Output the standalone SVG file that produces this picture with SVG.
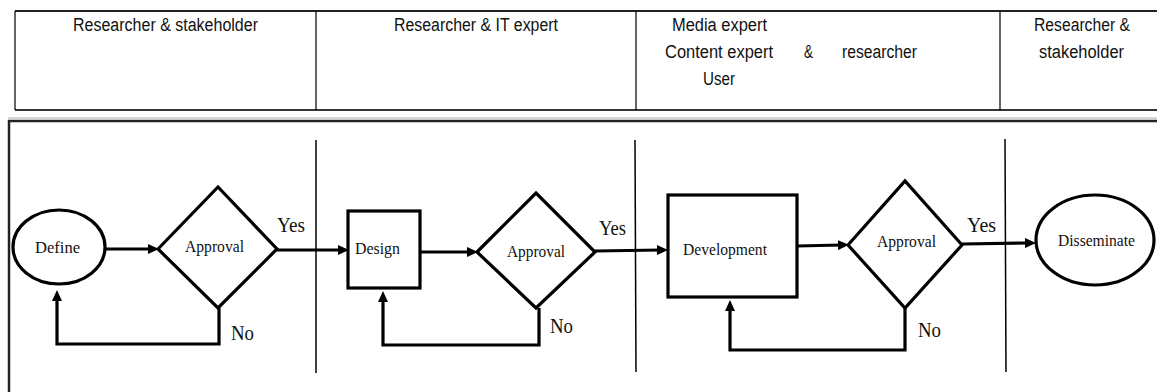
<svg xmlns="http://www.w3.org/2000/svg" width="1157" height="392" viewBox="0 0 1157 392">
  <style>
    .hdr { font-family: "Liberation Sans", Arial, sans-serif; font-size: 18px; fill: #111; }
    .lbl { font-family: "Liberation Serif", "Times New Roman", serif; font-size: 17.5px; fill: #111; }
    .yn  { font-family: "Liberation Serif", "Times New Roman", serif; font-size: 20px; fill: #111; }
    .shape { fill: #fff; stroke: #000; stroke-width: 3.2; }
    .flow { fill: none; stroke: #000; stroke-width: 3.2; }
    .lane { stroke: #000; stroke-width: 1.5; }
  </style>
  <defs>
    <marker id="arrow" markerUnits="userSpaceOnUse" markerWidth="11" markerHeight="10" refX="4" refY="5" orient="auto">
      <path d="M0,0 L11,5 L0,10 z" fill="#000"/>
    </marker>
  </defs>

  <rect width="1157" height="392" fill="#fff"/>

  <!-- role header table -->
  <g id="header">
    <path d="M15,11 H1157" stroke="#222" stroke-width="2"/>
    <path d="M15,110 H1157" stroke="#333" stroke-width="2.2"/>
    <path d="M15,11 V110 M316,11 V110 M636,11 V110 M1000,11 V110" stroke="#000" stroke-width="1.2"/>
    <path d="M8,118 H1157" stroke="#aaa" stroke-width="1.2"/>
    <text class="hdr" x="73" y="31" textLength="185" lengthAdjust="spacingAndGlyphs">Researcher &amp; stakeholder</text>
    <text class="hdr" x="394" y="31" textLength="164" lengthAdjust="spacingAndGlyphs">Researcher &amp; IT expert</text>
    <text class="hdr" x="672" y="31" textLength="95" lengthAdjust="spacingAndGlyphs">Media expert</text>
    <text class="hdr" x="665" y="58" textLength="108" lengthAdjust="spacingAndGlyphs">Content expert</text>
    <text class="hdr" x="703" y="85" textLength="32" lengthAdjust="spacingAndGlyphs">User</text>
    <text class="hdr" x="804" y="58" textLength="9" lengthAdjust="spacingAndGlyphs">&amp;</text>
    <text class="hdr" x="842" y="58" textLength="75" lengthAdjust="spacingAndGlyphs">researcher</text>
    <text class="hdr" x="1034" y="31" textLength="96" lengthAdjust="spacingAndGlyphs">Researcher &amp;</text>
    <text class="hdr" x="1039" y="58" textLength="85" lengthAdjust="spacingAndGlyphs">stakeholder</text>
  </g>

  <!-- process frame and lane dividers -->
  <g id="frame">
    <path d="M9,395 V121 H1160" fill="none" stroke="#222" stroke-width="2.5"/>
    <line class="lane" x1="316" y1="140" x2="316" y2="373"/>
    <line class="lane" x1="635" y1="140" x2="636" y2="372"/>
    <line class="lane" x1="1005" y1="139" x2="1006" y2="372"/>
  </g>

  <!-- connectors -->
  <g id="connectors">
    <line class="flow" x1="105" y1="249" x2="152" y2="249" marker-end="url(#arrow)"/>
    <polyline class="flow" points="219,308 219,344 57,344 57,297" marker-end="url(#arrow)"/>
    <line class="flow" x1="277" y1="250" x2="342" y2="250" marker-end="url(#arrow)"/>

    <line class="flow" x1="420" y1="252" x2="471" y2="252" marker-end="url(#arrow)"/>
    <polyline class="flow" points="539,308 539,345 383,345 383,298" marker-end="url(#arrow)"/>
    <line class="flow" x1="595" y1="251" x2="661" y2="250" marker-end="url(#arrow)"/>

    <line class="flow" x1="797" y1="246" x2="842" y2="245" marker-end="url(#arrow)"/>
    <polyline class="flow" points="905,308 905,350 730,350 730,307" marker-end="url(#arrow)"/>
    <line class="flow" x1="962" y1="244" x2="1029" y2="243" marker-end="url(#arrow)"/>

    <text class="yn" x="277" y="232" textLength="28" lengthAdjust="spacingAndGlyphs">Yes</text>
    <text class="yn" x="231" y="340" textLength="23" lengthAdjust="spacingAndGlyphs">No</text>
    <text class="yn" x="599" y="235" textLength="27" lengthAdjust="spacingAndGlyphs">Yes</text>
    <text class="yn" x="550" y="333" textLength="23" lengthAdjust="spacingAndGlyphs">No</text>
    <text class="yn" x="967" y="232" textLength="29" lengthAdjust="spacingAndGlyphs">Yes</text>
    <text class="yn" x="918" y="337" textLength="23" lengthAdjust="spacingAndGlyphs">No</text>
  </g>

  <g id="define">
    <ellipse class="shape" cx="59" cy="247" rx="46" ry="37"/>
    <text class="lbl" x="35" y="253" textLength="45" lengthAdjust="spacingAndGlyphs">Define</text>
  </g>

  <g id="approval-define">
    <polygon class="shape" points="158,249 218,187 277,249 218,308"/>
    <text class="lbl" x="185" y="252" textLength="59" lengthAdjust="spacingAndGlyphs">Approval</text>
  </g>

  <g id="design">
    <rect class="shape" x="348" y="211" width="72" height="77"/>
    <text class="lbl" x="355" y="254" textLength="45" lengthAdjust="spacingAndGlyphs">Design</text>
  </g>

  <g id="approval-design">
    <polygon class="shape" points="477,252 536,193 595,252 536,308"/>
    <text class="lbl" x="507" y="257" textLength="58" lengthAdjust="spacingAndGlyphs">Approval</text>
  </g>

  <g id="development">
    <rect class="shape" x="668" y="195" width="129" height="102"/>
    <text class="lbl" x="683" y="255" textLength="84" lengthAdjust="spacingAndGlyphs">Development</text>
  </g>

  <g id="approval-development">
    <polygon class="shape" points="848,245 905,181 962,245 905,308"/>
    <text class="lbl" x="877" y="247" textLength="59" lengthAdjust="spacingAndGlyphs">Approval</text>
  </g>

  <g id="disseminate">
    <ellipse class="shape" cx="1095" cy="240" rx="59" ry="45"/>
    <text class="lbl" x="1058" y="246" textLength="77" lengthAdjust="spacingAndGlyphs">Disseminate</text>
  </g>
</svg>
